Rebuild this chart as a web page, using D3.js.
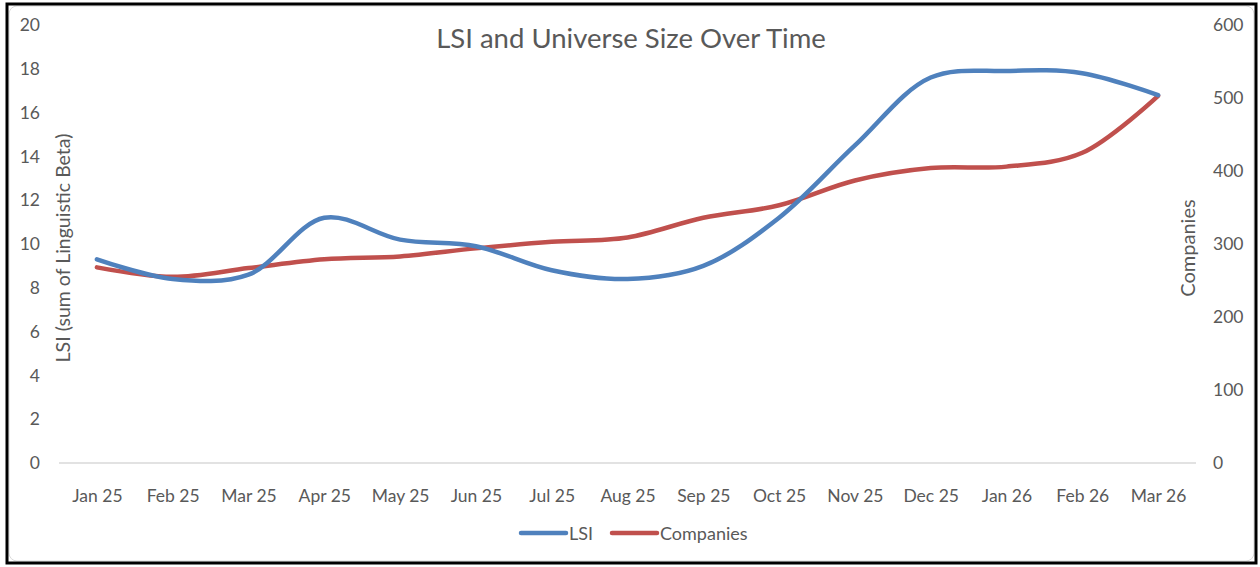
<!DOCTYPE html>
<html>
<head>
<meta charset="utf-8">
<script src="https://cdn.jsdelivr.net/npm/d3@7"></script>
<style>
  body { margin: 0; background: #fff; }
  text { font-family: Lato, "Open Sans", sans-serif; fill: #595959; }
</style>
</head>
<body>
<svg id="chart" width="1260" height="567"></svg>
<script>
// Data
const months = ["Jan 25","Feb 25","Mar 25","Apr 25","May 25","Jun 25","Jul 25","Aug 25",
                "Sep 25","Oct 25","Nov 25","Dec 25","Jan 26","Feb 26","Mar 26"];
const lsi = [9.3, 8.4, 8.6, 11.2, 10.2, 9.9, 8.8, 8.4, 9.0, 11.2, 14.5, 17.6, 17.9, 17.8, 16.8];
const companies = [268, 255, 267, 279, 283, 294, 303, 309, 336, 353, 387, 404, 406, 425, 503];
const leftTicks = [0, 2, 4, 6, 8, 10, 12, 14, 16, 18, 20];
const rightTicks = [0, 100, 200, 300, 400, 500, 600];

const svg = d3.select("#chart");

// frame
svg.append("rect")
   .attr("x", 9).attr("y", 6).attr("width", 1245).attr("height", 555)
   .attr("rx", 8).attr("fill", "#fff").attr("stroke", "#d9d9d9");
svg.append("rect")
   .attr("x", 7).attr("y", 4).attr("width", 1249).attr("height", 559)
   .attr("fill", "none").attr("stroke", "#000").attr("stroke-width", 3);

const plot = {left: 59, right: 1196, top: 25, bottom: 463};

const x = d3.scalePoint()
            .domain(months)
            .range([plot.left, plot.right])
            .padding(0.5);

const yL = d3.scaleLinear().domain([0, 20]).range([plot.bottom, plot.top]);
const yR = d3.scaleLinear().domain([0, 600]).range([plot.bottom, plot.top]);

// baseline
svg.append("line")
   .attr("x1", plot.left).attr("x2", plot.right)
   .attr("y1", yL(0)).attr("y2", yL(0))
   .attr("stroke", "#d9d9d9").attr("stroke-width", 1.5);

// Left axis
const gL = svg.append("g")
   .attr("transform", `translate(40,0)`)
   .call(d3.axisLeft(yL).tickValues(leftTicks).tickSize(0).tickPadding(0));
gL.select(".domain").remove();
gL.selectAll("text").style("font-size", "17.5px").attr("fill", "#595959");

// Right axis
const gR = svg.append("g")
   .attr("transform", `translate(1213,0)`)
   .call(d3.axisRight(yR).tickValues(rightTicks).tickSize(0).tickPadding(0));
gR.select(".domain").remove();
gR.selectAll("text").style("font-size", "17.5px").attr("fill", "#595959");

// X axis
const gX = svg.append("g")
   .attr("transform", `translate(0,${plot.bottom + 27})`)
   .call(d3.axisBottom(x).tickSize(0).tickPadding(0));
gX.select(".domain").remove();
gX.selectAll("text").style("font-size", "17.5px").attr("fill", "#595959");

// Lines
const curve = d3.curveCatmullRom.alpha(0.5);

const lineL = d3.line()
   .x((d, i) => x(months[i]))
   .y(d => yL(d))
   .curve(curve);

const lineR = d3.line()
   .x((d, i) => x(months[i]))
   .y(d => yR(d))
   .curve(curve);

svg.append("path")
   .datum(companies)
   .attr("d", lineR)
   .attr("fill", "none")
   .attr("stroke", "#C0504D")
   .attr("stroke-width", 4.5)
   .attr("stroke-linecap", "round");

svg.append("path")
   .datum(lsi)
   .attr("d", lineL)
   .attr("fill", "none")
   .attr("stroke", "#4F81BD")
   .attr("stroke-width", 4.5)
   .attr("stroke-linecap", "round");

// Title
svg.append("text")
   .attr("x", 631)
   .attr("y", 48)
   .attr("text-anchor", "middle")
   .style("font-size", "27.5px")
   .text("LSI and Universe Size Over Time");

// Axis titles
svg.append("text")
   .attr("transform", "translate(70,248) rotate(-90)")
   .attr("text-anchor", "middle")
   .style("font-size", "19.5px")
   .text("LSI (sum of Linguistic Beta)");

svg.append("text")
   .attr("transform", "translate(1195,248) rotate(-90)")
   .attr("text-anchor", "middle")
   .style("font-size", "20px")
   .text("Companies");

// Legend
const legend = [
  {name: "LSI", color: "#4F81BD", x: 521},
  {name: "Companies", color: "#C0504D", x: 612}
];
const lg = svg.append("g");
legend.forEach(d => {
  lg.append("line")
    .attr("x1", d.x).attr("x2", d.x + 45)
    .attr("y1", 533).attr("y2", 533)
    .attr("stroke", d.color).attr("stroke-width", 4.5)
    .attr("stroke-linecap", "round");
  lg.append("text")
    .attr("x", d.x + 48).attr("y", 539.5)
    .style("font-size", "18px")
    .text(d.name);
});
</script>
</body>
</html>
